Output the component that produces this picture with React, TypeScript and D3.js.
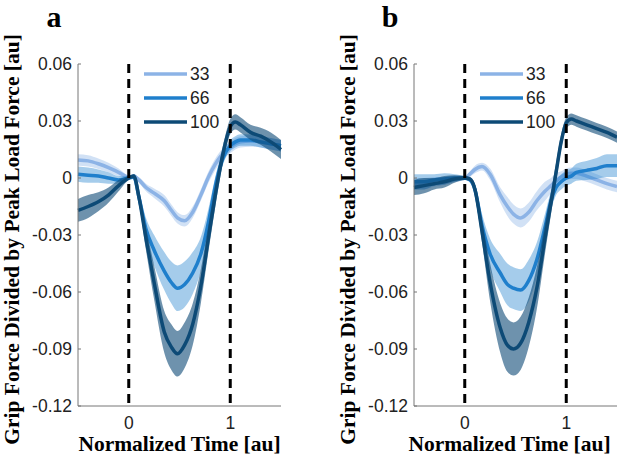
import React from "react";
import * as d3 from "d3";

// normalized time samples shared by every series
const time = [-0.5, -0.4, -0.3, -0.2, -0.1, 0, 0.05, 0.1, 0.17, 0.25, 0.35, 0.42, 0.48, 0.55, 0.63, 0.71, 0.79, 0.85, 0.9, 0.95, 1.0, 1.05, 1.1, 1.2, 1.3, 1.4, 1.5];

// panel a
const a33 = [0.0095, 0.009, 0.0075, 0.0055, 0.003, 0.0005, 0.001, -0.001, -0.005, -0.008, -0.012, -0.017, -0.021, -0.0225, -0.018, -0.009, 0.001, 0.007, 0.011, 0.014, 0.016, 0.018, 0.019, 0.0195, 0.019, 0.018, 0.017];
const a33Err = [0.003, 0.003, 0.0028, 0.0025, 0.002, 0.001, 0.001, 0.0015, 0.002, 0.0025, 0.003, 0.003, 0.003, 0.003, 0.003, 0.003, 0.003, 0.003, 0.003, 0.003, 0.003, 0.003, 0.003, 0.003, 0.003, 0.003, 0.003];
const a66 = [0.002, 0.0015, 0.001, 0.0, -0.001, 0, 0.0005, -0.01, -0.027, -0.038, -0.049, -0.055, -0.058, -0.056, -0.05, -0.04, -0.022, -0.005, 0.006, 0.013, 0.017, 0.019, 0.02, 0.02, 0.019, 0.018, 0.017];
const a66Err = [0.004, 0.004, 0.0035, 0.003, 0.002, 0.001, 0.001, 0.003, 0.006, 0.008, 0.01, 0.011, 0.012, 0.012, 0.011, 0.009, 0.007, 0.005, 0.004, 0.003, 0.003, 0.003, 0.003, 0.003, 0.003, 0.003, 0.003];
const a100 = [-0.017, -0.015, -0.0125, -0.009, -0.004, 0, 0.001, -0.01, -0.032, -0.055, -0.081, -0.089, -0.0925, -0.088, -0.077, -0.057, -0.03, -0.01, 0.005, 0.018, 0.027, 0.0295, 0.028, 0.024, 0.022, 0.019, 0.015];
const a100Err = [0.006, 0.006, 0.005, 0.004, 0.003, 0.001, 0.001, 0.003, 0.006, 0.009, 0.011, 0.012, 0.012, 0.012, 0.011, 0.009, 0.007, 0.006, 0.005, 0.004, 0.004, 0.004, 0.004, 0.004, 0.0045, 0.005, 0.005];

// panel b
const b33 = [-0.003, -0.003, -0.002, -0.0015, -0.0005, 0, 0.002, 0.0045, 0.006, 0.002, -0.009, -0.015, -0.019, -0.021, -0.018, -0.012, -0.007, -0.004, -0.0015, 0.0005, 0.002, 0.0025, 0.0025, 0.001, -0.001, -0.003, -0.0045];
const b33Err = [0.003, 0.003, 0.0025, 0.002, 0.0015, 0.001, 0.0015, 0.002, 0.002, 0.003, 0.004, 0.005, 0.005, 0.005, 0.005, 0.005, 0.005, 0.004, 0.004, 0.003, 0.003, 0.003, 0.003, 0.003, 0.003, 0.003, 0.003];
const b66 = [-0.002, -0.002, -0.001, -0.0005, 0, 0, -0.001, -0.006, -0.025, -0.04, -0.05, -0.056, -0.058, -0.059, -0.054, -0.043, -0.026, -0.012, -0.005, -0.002, 0, 0.001, 0.003, 0.004, 0.005, 0.0065, 0.0065];
const b66Err = [0.004, 0.004, 0.003, 0.003, 0.002, 0.001, 0.001, 0.003, 0.006, 0.008, 0.01, 0.011, 0.011, 0.011, 0.011, 0.009, 0.007, 0.005, 0.004, 0.004, 0.004, 0.004, 0.0045, 0.005, 0.0055, 0.006, 0.006];
const b100 = [-0.005, -0.004, -0.003, -0.002, -0.0005, 0, -0.0005, -0.006, -0.028, -0.055, -0.079, -0.088, -0.09, -0.087, -0.076, -0.058, -0.032, -0.013, 0.003, 0.019, 0.029, 0.031, 0.03, 0.028, 0.026, 0.024, 0.0215];
const b100Err = [0.004, 0.004, 0.003, 0.003, 0.002, 0.001, 0.001, 0.003, 0.006, 0.01, 0.013, 0.014, 0.014, 0.014, 0.013, 0.011, 0.008, 0.006, 0.005, 0.004, 0.003, 0.003, 0.003, 0.003, 0.003, 0.003, 0.003];

const legendLabels = ["33", "66", "100"];
const lineColors = ["#8cb3e6", "#1f7fcc", "#0d4a76"];
const bandOpacity = [0.4, 0.4, 0.6];

const yTicks = [0.06, 0.03, 0, -0.03, -0.06, -0.09, -0.12];
const yTickLabels = ["0.06", "0.03", "0", "-0.03", "-0.06", "-0.09", "-0.12"];
const xTicks = [0, 1];
const xTickLabels = ["0", "1"];

const panels = [
  { letter: "a", left: 78, xLabelShift: 0, means: [a33, a66, a100], errs: [a33Err, a66Err, a100Err] },
  { letter: "b", left: 414, xLabelShift: -6, means: [b33, b66, b100], errs: [b33Err, b66Err, b100Err] },
];

const plotW = 203;
const top = 64;
const bottom = 406;
const sans = "'Liberation Sans', Arial, sans-serif";
const serif = "'Liberation Serif', 'Times New Roman', serif";

function Panel({ letter, left, xLabelShift, means, errs }) {
  const x = d3.scaleLinear().domain([-0.5, 1.5]).range([left, left + plotW]);
  const y = d3.scaleLinear().domain([-0.12, 0.06]).range([bottom, top]);

  const line = d3
    .line<number>()
    .x((_, i) => x(time[i]))
    .y((d) => y(d))
    .curve(d3.curveMonotoneX);

  const band = (m: number[], e: number[]) =>
    d3
      .area<number>()
      .x((_, i) => x(time[i]))
      .y0((d, i) => y(d - e[i]))
      .y1((d, i) => y(d + e[i]))
      .curve(d3.curveMonotoneX)(m);

  const cx = left + plotW / 2 + xLabelShift;

  return (
    <g>
      {/* shaded error bars + means */}
      {means.map((m, k) => (
        <g key={k}>
          <path d={band(m, errs[k]) || ""} fill={lineColors[k]} fillOpacity={bandOpacity[k]} stroke="none" />
          <path d={line(m) || ""} fill="none" stroke={lineColors[k]} strokeWidth={3.5} strokeLinejoin="round" />
        </g>
      ))}

      {/* event markers */}
      {xTicks.map((t) => (
        <line key={t} x1={x(t)} x2={x(t)} y1={top} y2={bottom} stroke="#000" strokeWidth={3} strokeDasharray="9 6" />
      ))}

      {/* axes */}
      <line x1={left} x2={left} y1={top} y2={bottom} stroke="#777" strokeWidth={1} />
      <line x1={left} x2={left + plotW} y1={bottom} y2={bottom} stroke="#777" strokeWidth={1} />
      {yTicks.map((t, i) => (
        <g key={t}>
          <line x1={left} x2={left + 3} y1={y(t)} y2={y(t)} stroke="#777" />
          <text x={left - 6} y={y(t)} dy="0.35em" textAnchor="end" fontFamily={sans} fontSize={17.5} fill="#222">
            {yTickLabels[i]}
          </text>
        </g>
      ))}
      {xTicks.map((t, i) => (
        <text key={t} x={x(t)} y={429} textAnchor="middle" fontFamily={sans} fontSize={17.5} fill="#222">
          {xTickLabels[i]}
        </text>
      ))}

      {/* legend */}
      {legendLabels.map((lab, k) => {
        const ly = 74 + k * 24;
        return (
          <g key={lab}>
            <line x1={left + 66} x2={left + 109} y1={ly} y2={ly} stroke={lineColors[k]} strokeWidth={3.5} />
            <text x={left + 112} y={ly} dy="0.36em" fontFamily={sans} fontSize={17.5} fill="#222">
              {lab}
            </text>
          </g>
        );
      })}

      {/* titles */}
      <text x={cx} y={451} textAnchor="middle" fontFamily={serif} fontWeight="bold" fontSize={21.5} fill="#000">
        Normalized Time [au]
      </text>
      <text
        transform={`translate(${left - 59},239.5) rotate(-90)`}
        textAnchor="middle"
        fontFamily={serif}
        fontWeight="bold"
        fontSize={21.5}
        fill="#000"
      >
        Grip Force Divided by Peak Load Force [au]
      </text>
      <text x={left - 24} y={27} textAnchor="middle" fontFamily={serif} fontWeight="bold" fontSize={30} fill="#000">
        {letter}
      </text>
    </g>
  );
}

export default function App() {
  return (
    <svg width={617} height={459} style={{ position: "absolute", left: 0, top: 0, background: "#fff" }}>
      {panels.map((p) => (
        <Panel key={p.letter} {...p} />
      ))}
    </svg>
  );
}
